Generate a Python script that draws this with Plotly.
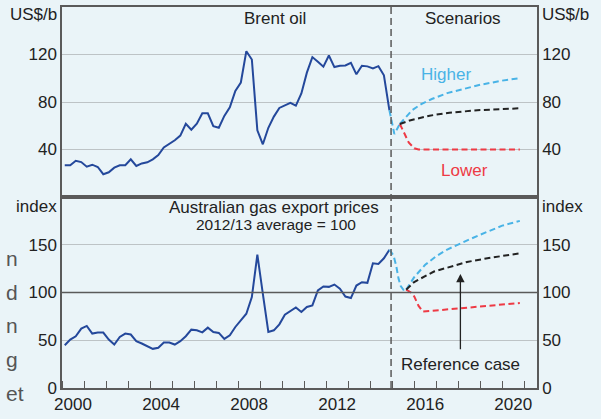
import plotly.graph_objects as go

# ---------------- data ----------------
N_Q = 60
quarters = [2000.125 + 0.25 * i for i in range(N_Q)]  # 2000Q1 .. 2014Q4 (mid-quarter)

brent = [26.7, 26.7, 30.5, 29.4, 25.5, 27.2, 25.3, 19.2, 20.8, 24.7,
         26.7, 26.7, 31.7, 26.1, 28.3, 29.2, 31.7, 35.3, 41.7, 44.4,
         47.8, 51.7, 61.7, 56.7, 61.7, 70.5, 70.5, 59.7, 58.3, 68.3,
         75.5, 89.4, 96.4, 122.8, 115.8, 56.1, 44.4, 58.3, 67.7, 75.0,
         76.9, 79.2, 76.9, 87.2, 104.7, 117.8, 113.9, 109.7, 119.2, 109.4,
         110.5, 110.8, 113.0, 103.3, 110.5, 110.0, 108.3, 110.2, 102.5, 73.0]

gas = [44.8, 50.7, 54.2, 62.2, 65.0, 57.0, 58.0, 58.0, 50.7, 45.5,
       53.5, 57.0, 56.0, 49.0, 46.6, 43.8, 41.0, 42.1, 47.6, 47.6,
       45.5, 49.0, 54.2, 61.1, 60.4, 58.3, 63.2, 58.7, 57.7, 51.4,
       55.2, 63.9, 70.8, 77.8, 95.2, 139.6, 98.6, 58.7, 60.4, 66.7,
       76.8, 80.2, 84.4, 79.6, 84.8, 86.5, 102.1, 106.3, 105.9, 108.3,
       103.9, 95.8, 94.2, 107.3, 110.8, 110.1, 130.6, 129.9, 135.8, 144.8]

# recent (bridge) data, shown dashed light blue
brent_recent_x = [2014.875, 2015.1, 2015.35]
brent_recent_y = [73.0, 53.0, 61.5]
gas_recent_x = [2014.875, 2015.06, 2015.18, 2015.29, 2015.39, 2015.51, 2015.64]
gas_recent_y = [144.8, 138.8, 128.4, 114.5, 106.7, 102.8, 103.0]

# oil scenarios
oil_high_x = [2015.35, 2015.6, 2015.9, 2016.3, 2016.8, 2017.5, 2018.2, 2019.0, 2020.0, 2020.8]
oil_high_y = [61.5, 67.0, 73.0, 78.0, 82.5, 87.5, 91.0, 94.5, 98.0, 100.0]
oil_ref_x = [2015.35, 2015.8, 2016.7, 2017.6, 2019.0, 2020.8]
oil_ref_y = [61.5, 64.5, 68.5, 71.0, 73.2, 74.7]
oil_low_x = [2015.35, 2015.55, 2015.75, 2016.0, 2016.2, 2020.8]
oil_low_y = [61.5, 54.0, 46.0, 41.0, 40.0, 40.0]

# gas scenarios
gas_high_x = [2015.64, 2015.85, 2016.0, 2016.5, 2017.0, 2017.5, 2018.0, 2018.5, 2019.0, 2019.5, 2020.0, 2020.8]
gas_high_y = [103.0, 110.0, 116.0, 129.0, 138.0, 145.0, 150.5, 155.5, 160.5, 165.5, 170.0, 175.0]
gas_ref_x = [2015.64, 2016.0, 2016.9, 2017.6, 2018.4, 2019.5, 2020.8]
gas_ref_y = [103.0, 111.0, 122.0, 127.0, 132.0, 136.5, 141.0]
gas_low_x = [2015.64, 2015.85, 2016.0, 2016.2, 2016.4, 2020.8]
gas_low_y = [103.0, 100.0, 96.0, 86.0, 80.0, 89.0]

oil_ticks = [40, 80, 120]
gas_ticks = [0, 50, 100, 150]
x_label_pos = [2000.5, 2004.5, 2008.5, 2012.5, 2016.5, 2020.5]
x_labels = ["2000", "2004", "2008", "2012", "2016", "2020"]
year_ticks = list(range(2000, 2022))

# ---------------- style ----------------
BG = "#EAF4F8"
NAVY = "#24489B"
LBLUE = "#49B3E6"
RED = "#EE3A45"
BLACK = "#222222"
FRAME = "#5a5a5a"
GRID = "#BDC3C6"
FONT = "Arial, Liberation Sans, sans-serif"
TXT = "#222222"
DASH = "6px,3.5px"
FS = 17

fig = go.Figure()

def line(x, y, color, xa, ya, dash=None, width=2):
    fig.add_trace(go.Scatter(x=x, y=y, mode="lines", xaxis=xa, yaxis=ya,
                             line=dict(color=color, width=width, dash=dash),
                             hoverinfo="skip", showlegend=False))

# top panel (oil)
line(quarters, brent, NAVY, "x", "y")
line(brent_recent_x, brent_recent_y, LBLUE, "x", "y", DASH)
line(oil_high_x, oil_high_y, LBLUE, "x", "y", DASH)
line(oil_low_x, oil_low_y, RED, "x", "y", DASH)
line(oil_ref_x, oil_ref_y, BLACK, "x", "y", DASH)
# bottom panel (gas)
line(quarters, gas, NAVY, "x2", "y2")
line(gas_recent_x, gas_recent_y, LBLUE, "x2", "y2", DASH)
line(gas_high_x, gas_high_y, LBLUE, "x2", "y2", DASH)
line(gas_low_x, gas_low_y, RED, "x2", "y2", DASH)
line(gas_ref_x, gas_ref_y, BLACK, "x2", "y2", DASH)
# dummy traces for right-hand axes
fig.add_trace(go.Scatter(x=[None], y=[None], xaxis="x", yaxis="y3", showlegend=False))
fig.add_trace(go.Scatter(x=[None], y=[None], xaxis="x2", yaxis="y4", showlegend=False))

XR = [2000, 2021.58]
D_SPLIT = 193 / 385

tickfont = dict(family=FONT, size=FS, color=TXT)
common_y = dict(showline=True, linecolor=FRAME, linewidth=1.5, ticks="", zeroline=False,
                tickfont=tickfont, fixedrange=True)

fig.update_layout(
    width=601, height=419,
    margin=dict(l=62, r=64, t=5, b=29),
    paper_bgcolor=BG, plot_bgcolor=BG,
    font=dict(family=FONT, size=FS, color=TXT),
    xaxis=dict(domain=[0, 1], anchor="y", range=XR, showticklabels=False, ticks="",
               showgrid=False, showline=True, linecolor=FRAME, linewidth=1.5, mirror=True,
               zeroline=False),
    yaxis=dict(domain=[D_SPLIT, 1], anchor="x", range=[0, 160], tickvals=oil_ticks,
               showgrid=True, gridcolor=GRID, gridwidth=1, mirror=True, **common_y),
    yaxis3=dict(overlaying="y", side="right", anchor="x", range=[0, 160], tickvals=oil_ticks,
                showgrid=False, **common_y),
    xaxis2=dict(domain=[0, 1], anchor="y2", range=XR, tickvals=x_label_pos, ticktext=x_labels,
                ticks="", tickfont=tickfont, showgrid=False, showline=True, linecolor=FRAME,
                linewidth=1.5, mirror=True, zeroline=False,
                minor=dict(tickvals=year_ticks, ticks="inside", ticklen=7, tickcolor=FRAME,
                           tickwidth=1.2, showgrid=False)),
    yaxis2=dict(domain=[0, D_SPLIT], anchor="x2", range=[0, 200], tickvals=gas_ticks,
                showgrid=True, gridcolor=GRID, gridwidth=1, mirror=True, **common_y),
    yaxis4=dict(overlaying="y2", side="right", anchor="x2", range=[0, 200], tickvals=gas_ticks,
                showgrid=False, **common_y),
)

# reference line at 100 in gas panel
fig.add_shape(type="line", xref="x2", yref="y2", x0=XR[0], x1=XR[1], y0=100, y1=100,
              line=dict(color=FRAME, width=1.5))
# vertical dashed separator
fig.add_shape(type="line", xref="x", yref="paper", x0=2014.95, x1=2014.95, y0=0, y1=1,
              line=dict(color=FRAME, width=1.5, dash="7px,4px"))

def note(text, x, y, xref="x", yref="y", size=FS, color=TXT, xanchor="center", yanchor="middle"):
    fig.add_annotation(text=text, x=x, y=y, xref=xref, yref=yref, showarrow=False,
                       font=dict(family=FONT, size=size, color=color),
                       xanchor=xanchor, yanchor=yanchor)

note("Brent oil", 2009.68, 150)
note("Scenarios", 2018.21, 150)
note("Higher", 2017.45, 103, color=LBLUE)
note("Lower", 2018.27, 22.7, color=RED)
note("Australian gas export prices", 2009.64, 189, "x2", "y2")
note("2012/13 average = 100", 2009.73, 171.5, "x2", "y2", size=15.5)
note("Reference case", 2018.1, 24.7, "x2", "y2")

# unit labels
note("US$/b", -0.007, (390 - 13) / 385, "paper", "paper", xanchor="right")
note("US$/b", 1.006, (390 - 13) / 385, "paper", "paper", xanchor="left")
note("index", -0.007, (390 - 207) / 385, "paper", "paper", xanchor="right")
note("index", 1.006, (390 - 207) / 385, "paper", "paper", xanchor="left")

# arrow to reference case
fig.add_annotation(x=2018.1, y=119.5, ax=2018.1, ay=39, xref="x2", yref="y2",
                   axref="x2", ayref="y2", showarrow=True, arrowhead=2, arrowsize=1.3,
                   arrowwidth=1.3, arrowcolor=BLACK, text="")

# fragments of surrounding page text at the left edge
side_text = ["n", "d", "n", "g", "et"]
side_y = [259, 293, 327, 361, 396]
for t, yy in zip(side_text, side_y):
    note(t, (4 - 62) / 475, (390 - yy) / 385, "paper", "paper", size=21, color="#555555",
         xanchor="left")

fig.write_html("out.html", config={"displayModeBar": False},
               post_script="document.body.style.margin='0';document.body.style.overflow='hidden';")
